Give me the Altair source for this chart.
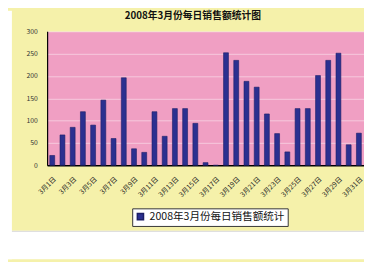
import altair as alt
import pandas as pd

days = ["3月1日", "3月2日", "3月3日", "3月4日", "3月5日", "3月6日", "3月7日", "3月8日",
        "3月9日", "3月10日", "3月11日", "3月12日", "3月13日", "3月14日", "3月15日", "3月16日",
        "3月17日", "3月18日", "3月19日", "3月20日", "3月21日", "3月22日", "3月23日", "3月24日",
        "3月25日", "3月26日", "3月27日", "3月28日", "3月29日", "3月30日", "3月31日"]
sales = [22, 68, 85, 120, 90, 146, 60, 196, 37, 29, 120, 65, 127, 127, 94, 6,
         0, 252, 235, 188, 175, 115, 71, 30, 127, 127, 201, 235, 251, 46, 72]
label_days = ["3月1日", "3月3日", "3月5日", "3月7日", "3月9日", "3月11日", "3月13日", "3月15日",
              "3月17日", "3月19日", "3月21日", "3月23日", "3月25日", "3月27日", "3月29日", "3月31日"]
y_ticks = [0, 50, 100, 150, 200, 250, 300]
series_name = "2008年3月份每日销售额统计"
title_text = "2008年3月份每日销售额统计图"

FONT = "Noto Sans CJK SC"
W, H = 324, 137

df = pd.DataFrame({"day": days, "sales": sales, "series": [series_name] * len(days)})

bars = alt.Chart(df).mark_bar(size=5, stroke="#1c1f66", strokeWidth=0.6).encode(
    x=alt.X("day:N", sort=days,
            scale=alt.Scale(paddingInner=0, paddingOuter=0),
            axis=alt.Axis(values=label_days, labelAngle=-45, labelFontSize=7, ticks=False,
                          domainColor="black", domainWidth=1.5, labelPadding=10, title=None,
                          labelColor="#222", labelFont=FONT)),
    y=alt.Y("sales:Q", scale=alt.Scale(domain=[0, 300], nice=False),
            axis=alt.Axis(values=y_ticks, grid=True, gridColor="white", gridOpacity=0.45,
                          ticks=False, labelFontSize=7, labelPadding=10, domainColor="black",
                          domainWidth=1.2, title=None, labelColor="#333", labelFont=FONT)),
    color=alt.Color("series:N", scale=alt.Scale(range=["#2b3090"]),
                    legend=alt.Legend(orient="none", legendX=87, legendY=181,
                                      direction="horizontal", fillColor="white",
                                      strokeColor="#333", padding=3, symbolType="square",
                                      symbolSize=40, labelFontSize=10.8, title=None,
                                      labelFont=FONT, labelLimit=300, cornerRadius=0,
                                      labelColor="#111")),
)

one = pd.DataFrame({"k": [0]})

left_strip = alt.Chart(one).mark_rect(color="white").encode(
    x=alt.value(-40), x2=alt.value(-36), y=alt.value(-21), y2=alt.value(233))
bottom_strip = alt.Chart(one).mark_rect(color="white").encode(
    x=alt.value(-40), x2=alt.value(W), y=alt.value(204), y2=alt.value(233))
bottom_line = alt.Chart(one).mark_rule(color="#d8d8d8", strokeWidth=1).encode(
    x=alt.value(-36), x2=alt.value(W), y=alt.value(204.5))

title = alt.Chart(pd.DataFrame({"t": [title_text]})).mark_text(
    font=FONT, fontSize=10, fontWeight="bold", color="#111", baseline="alphabetic"
).encode(x=alt.value(149), y=alt.value(-13), text="t:N")

chart = alt.layer(left_strip, bottom_strip, bottom_line, bars, title).properties(
    width=W, height=H,
    background="#f5f1aa",
    autosize=alt.AutoSizeParams(type="none"),
    padding={"left": 40, "top": 21, "right": 0, "bottom": 96},
).configure(
    font=FONT,
    view=alt.ViewConfig(fill="#f09fc3", stroke="transparent"),
)

chart.save("out.html", embed_options={"renderer": "svg", "actions": False})
